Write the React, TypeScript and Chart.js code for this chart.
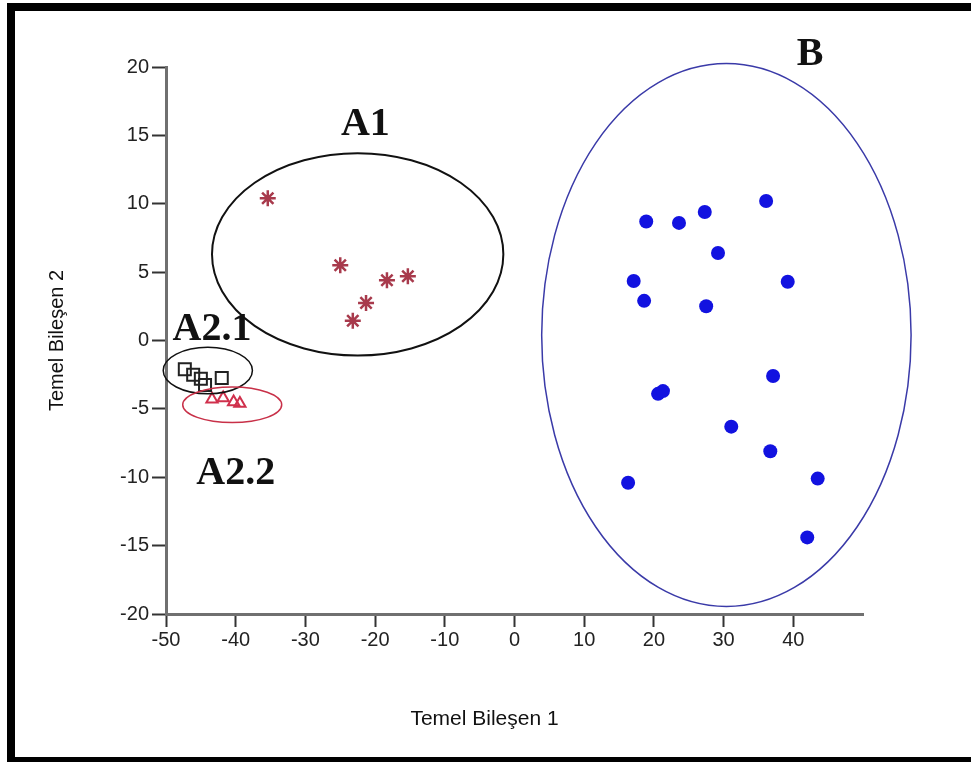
import React, { useEffect, useRef } from "react";
import { Chart, registerables } from "chart.js";

Chart.register(...registerables);

// ---- data ----
const xTicks = [-50, -40, -30, -20, -10, 0, 10, 20, 30, 40];
const yTicks = [-20, -15, -10, -5, 0, 5, 10, 15, 20];

const a1X = [-35.4, -25.0, -18.3, -15.3, -21.3, -23.2];
const a1Y = [10.4, 5.5, 4.4, 4.7, 2.75, 1.45];

const a21X = [-47.3, -46.1, -45.0, -44.4, -42.0];
const a21Y = [-2.1, -2.5, -2.8, -3.25, -2.75];

const a22X = [-43.4, -41.8, -40.3, -39.4];
const a22Y = [-4.3, -4.2, -4.5, -4.6];

const bX = [18.9, 23.6, 27.3, 36.1, 29.2, 17.1, 18.6, 27.5, 39.2, 20.6, 21.3, 37.1, 31.1, 36.7, 16.3, 43.5, 42.0];
const bY = [8.7, 8.6, 9.4, 10.2, 6.4, 4.35, 2.9, 2.5, 4.3, -3.9, -3.7, -2.6, -6.3, -8.1, -10.4, -10.1, -14.4];

// cluster ellipses (data units): centre x, centre y, radius x, radius y
const ellipseNames = ["A1", "B", "A2.1", "A2.2"];
const ellipseCX = [-22.5, 30.4, -44.0, -40.5];
const ellipseCY = [6.3, 0.4, -2.2, -4.7];
const ellipseRX = [20.9, 26.5, 6.4, 7.1];
const ellipseRY = [7.4, 19.85, 1.7, 1.3];
const ellipseColors = ["#111111", "#3a3aa8", "#111111", "#c83048"];

// cluster labels (data units)
const labelTexts = ["A1", "B", "A2.1", "A2.2"];
const labelX = [-21.4, 42.4, -43.4, -40.0];
const labelY = [15.8, 20.9, 0.8, -9.75];

// x-axis title, anchored at this x value
const xTitleText = "Temel Bileşen 1";
const xTitleAt = -4.3;

const toPts = (xs: number[], ys: number[]) => xs.map((x, i) => ({ x, y: ys[i] }));

const overlayPlugin = {
  id: "clusterOverlay",
  afterDatasetsDraw(chart: any) {
    const { ctx, scales } = chart;
    const xs = scales.x;
    const ys = scales.y;
    ctx.save();
    ellipseNames.forEach((_, i) => {
      const cx = xs.getPixelForValue(ellipseCX[i]);
      const cy = ys.getPixelForValue(ellipseCY[i]);
      const rx = Math.abs(xs.getPixelForValue(ellipseCX[i] + ellipseRX[i]) - cx);
      const ry = Math.abs(ys.getPixelForValue(ellipseCY[i] + ellipseRY[i]) - cy);
      ctx.beginPath();
      ctx.ellipse(cx, cy, rx, ry, 0, 0, Math.PI * 2);
      ctx.strokeStyle = ellipseColors[i];
      ctx.lineWidth = i === 0 ? 2 : 1.5;
      ctx.stroke();
    });
    ctx.fillStyle = "#111111";
    ctx.font = "bold 40px 'Liberation Serif', 'Times New Roman', serif";
    ctx.textAlign = "center";
    ctx.textBaseline = "middle";
    labelTexts.forEach((t, i) => {
      ctx.fillText(t, xs.getPixelForValue(labelX[i]), ys.getPixelForValue(labelY[i]));
    });
    // x axis title
    ctx.font = "21px 'Liberation Sans', Arial, sans-serif";
    ctx.fillStyle = "#111111";
    ctx.fillText(xTitleText, xs.getPixelForValue(xTitleAt), xs.bottom - 14);
    ctx.restore();
  },
};

export default function App() {
  const ref = useRef<HTMLCanvasElement | null>(null);

  useEffect(() => {
    if (!ref.current) return;
    const tickFont = { family: "'Liberation Sans', Arial, sans-serif", size: 20 };
    const chart = new Chart(ref.current, {
      type: "scatter",
      data: {
        datasets: [
          {
            label: "A1",
            data: toPts(a1X, a1Y),
            pointStyle: "star",
            pointRadius: 8,
            borderColor: "#a83a4c",
            backgroundColor: "#a83a4c",
            borderWidth: 2.5,
          },
          {
            label: "A2.1",
            data: toPts(a21X, a21Y),
            pointStyle: "rect",
            pointRadius: 8.5,
            borderColor: "#222222",
            backgroundColor: "rgba(0,0,0,0)",
            borderWidth: 2,
          },
          {
            label: "A2.2",
            data: toPts(a22X, a22Y),
            pointStyle: "triangle",
            pointRadius: 6.5,
            borderColor: "#d0304c",
            backgroundColor: "rgba(0,0,0,0)",
            borderWidth: 2,
          },
          {
            label: "B",
            data: toPts(bX, bY),
            pointStyle: "circle",
            pointRadius: 7,
            borderColor: "#1212e0",
            backgroundColor: "#1212e0",
            borderWidth: 0,
          },
        ],
      },
      options: {
        responsive: false,
        animation: false,
        devicePixelRatio: 1,
        layout: { padding: { left: 42, top: 67, right: 108, bottom: 29 } },
        plugins: {
          legend: { display: false },
          tooltip: { enabled: false },
        },
        scales: {
          x: {
            type: "linear",
            min: -50,
            max: 50,
            afterBuildTicks: (s: any) => {
              s.ticks = xTicks.concat([50]).map((v) => ({ value: v }));
            },
            afterFit: (s: any) => {
              s.height = 119;
            },
            ticks: {
              font: tickFont,
              color: "#222222",
              padding: 1,
              maxRotation: 0,
              autoSkip: false,
              callback: (v: any) => (xTicks.includes(Number(v)) ? String(v) : ""),
            },
            grid: {
              display: true,
              drawOnChartArea: false,
              drawTicks: true,
              tickLength: 13,
              tickWidth: 2,
              tickColor: (c: any) => (c.tick && c.tick.value === 50 ? "rgba(0,0,0,0)" : "#333333"),
            },
            border: { display: true, color: "#707070", width: 3 },
            title: { display: false },
          },
          y: {
            type: "linear",
            min: -20,
            max: 20,
            afterBuildTicks: (s: any) => {
              s.ticks = yTicks.map((v) => ({ value: v }));
            },
            afterFit: (s: any) => {
              s.width = 124;
            },
            ticks: {
              font: tickFont,
              color: "#222222",
              padding: 3,
              autoSkip: false,
            },
            grid: {
              display: true,
              drawOnChartArea: false,
              drawTicks: true,
              tickLength: 14,
              tickWidth: 2,
              tickColor: "#333333",
            },
            border: { display: true, color: "#707070", width: 3 },
            title: {
              display: true,
              text: "Temel Bileşen 2",
              color: "#111111",
              font: { family: "'Liberation Sans', Arial, sans-serif", size: 20 },
              padding: { top: 3, bottom: 0 },
            },
          },
        },
      },
      plugins: [overlayPlugin],
    } as any);
    return () => chart.destroy();
  }, []);

  return (
    <div
      style={{
        position: "absolute",
        left: 0,
        top: 0,
        width: 971,
        height: 762,
        background: "#ffffff",
        overflow: "hidden",
      }}
    >
      <canvas ref={ref} width={971} height={762} style={{ position: "absolute", left: 0, top: 0 }} />
      <div
        style={{
          position: "absolute",
          left: 7,
          top: 3,
          width: 964,
          height: 759,
          boxSizing: "border-box",
          borderLeft: "8px solid #000",
          borderTop: "8px solid #000",
          borderBottom: "5px solid #000",
          pointerEvents: "none",
        }}
      />
    </div>
  );
}
